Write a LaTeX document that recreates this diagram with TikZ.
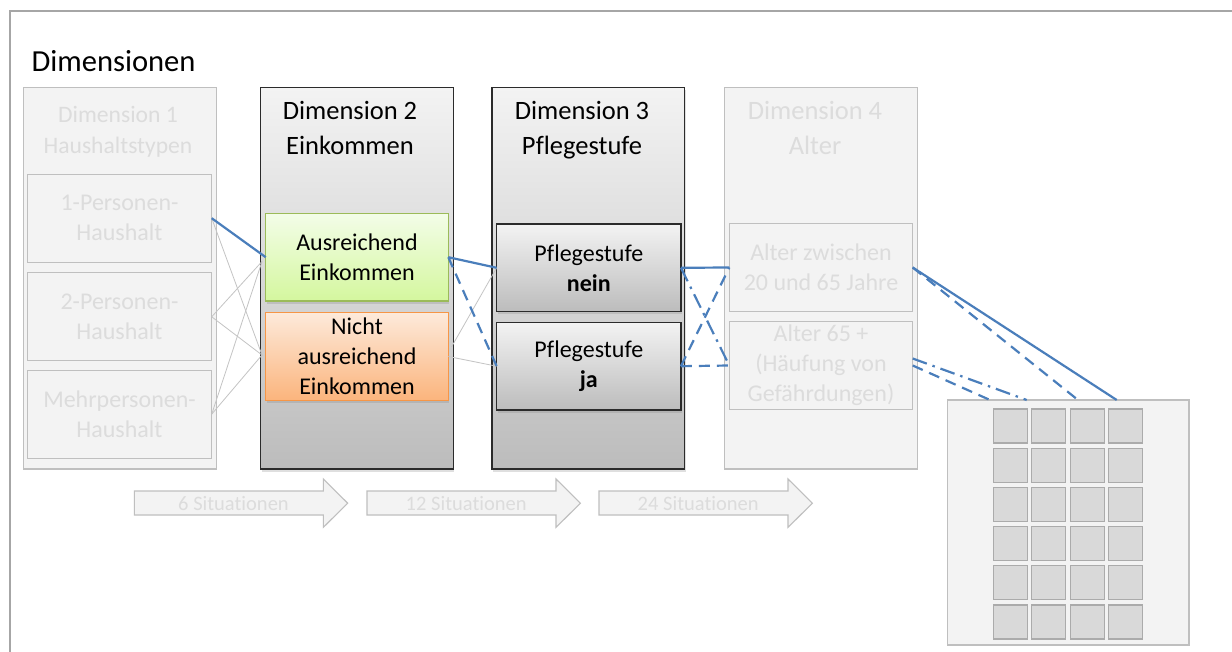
\documentclass[tikz,border=0pt]{standalone}
\usepackage{fontspec}
\setmainfont{Carlito}[Ligatures={NoCommon}]
\usetikzlibrary{shadows,calc}
\definecolor{blueL}{HTML}{4A7EBB}
\definecolor{lgfill}{HTML}{F3F3F3}
\definecolor{lgborder}{HTML}{BFBFBF}
\definecolor{lgtext}{HTML}{DCDCDC}
\definecolor{framec}{HTML}{A6A6A6}
\definecolor{gtop}{HTML}{F3F3F3}
\definecolor{gbot}{HTML}{BCBCBC}
\definecolor{dkborder}{HTML}{2B2B2B}
\definecolor{grtop}{HTML}{F3FDE8}
\definecolor{grbot}{HTML}{D4F79E}
\definecolor{grborder}{HTML}{9BBB59}
\definecolor{ortop}{HTML}{FDEADB}
\definecolor{orbot}{HTML}{FBB47C}
\definecolor{orborder}{HTML}{F79646}
\definecolor{sqfill}{HTML}{D9D9D9}
\definecolor{sqborder}{HTML}{ABABAB}
\definecolor{thinc}{HTML}{C4C4C4}
\begin{document}
\begin{tikzpicture}[x=1pt,y=-1pt,
  every node/.style={inner sep=0pt, outer sep=0pt},
  shd/.style={drop shadow={shadow xshift=1pt, shadow yshift=-2.5pt, opacity=0.25}},
  lightcol/.style={draw=lgborder, fill=lgfill, line width=1.3pt, minimum width=193.4pt, minimum height=381.7pt},
  darkcol/.style={draw=dkborder, line width=1.3pt, top color=gtop, bottom color=gbot, minimum width=192.6pt, minimum height=381.7pt, shd},
  hdr/.style={font=\fontsize{26.5}{35}\selectfont, align=center},
  boxtxt/.style={font=\fontsize{24}{30}\selectfont, align=center},
  lightbox/.style={draw=lgborder, fill=lgfill, line width=1.2pt, minimum width=184.4pt, minimum height=88pt, boxtxt, text=lgtext},
  graybox/.style={draw=dkborder, line width=1.3pt, top color=gtop, bottom color=gbot, minimum width=184.3pt, minimum height=87.7pt, boxtxt, shd},
  greenbox/.style={draw=grborder, line width=1.3pt, top color=grtop, bottom color=grbot, minimum width=182.6pt, minimum height=87.7pt, boxtxt, shd},
  orangebox/.style={draw=orborder, line width=1.3pt, top color=ortop, bottom color=orbot, minimum width=182.6pt, minimum height=88.4pt, boxtxt, shd},
  sq/.style={draw=sqborder, fill=sqfill, line width=1.1pt, minimum width=34pt, minimum height=34pt},
  arrowsh/.style={draw=lgborder, fill=lgfill, line width=1.1pt, line join=miter},
  sittxt/.style={font=\fontsize{20.5}{23}\selectfont, text=lgtext},
  thinln/.style={draw=thinc, line width=0.8pt},
  blueln/.style={draw=blueL, line width=2.2pt},
  bdash/.style={blueln, dash pattern=on 11pt off 7pt},
  bdashdot/.style={blueln, dash pattern=on 15pt off 6pt on 2.5pt off 6pt}
]
\useasboundingbox (0,0) rectangle (1232,652);
\fill[white] (0,0) rectangle (1232,652);
% outer frame
\draw[framec, line width=2pt] (1234,11) -- (10,11) -- (10,654);
\node[anchor=base west, font=\fontsize{30.6}{36}\selectfont] (title) at (31.5,71.5) {Dimensionen};

% columns
\node[lightcol] (d1) at (120,278.2) {};
\node[darkcol] (d2) at (357,278.2) {};
\node[darkcol] (d3) at (588.3,278.2) {};
\node[lightcol] (d4) at (821,278.2) {};

% headers
\node[font=\fontsize{23.6}{31}\selectfont, align=center, text=lgtext] (h1) at (118,132) {Dimension 1\\Haushaltstypen};
\node[hdr] (h2) at (350,127.5) {Dimension 2\\Einkommen};
\node[hdr] (h3) at (582,130) {Dimension 3\\Pflegestufe};
\node[hdr, text=lgtext] (h4) at (815,127.5) {Dimension 4\\Alter};

% D1 boxes
\node[lightbox] (d1a) at (119.5,218.2) {1-Personen-\\Haushalt};
\node[lightbox] (d1b) at (119.5,316.8) {2-Personen-\\Haushalt};
\node[lightbox] (d1c) at (119.5,414.2) {Mehrpersonen-\\Haushalt};

% D2 boxes
\node[greenbox] (d2a) at (357,257.2) {Ausreichend\\Einkommen};
\node[orangebox] (d2b) at (357,356.5) {Nicht\\ausreichend\\Einkommen};

% D3 boxes
\node[graybox] (d3a) at (588.8,267.8) {Pflegestufe\\\textbf{nein}};
\node[graybox] (d3b) at (588.8,366.2) {Pflegestufe\\\textbf{ja}};

% D4 boxes
\node[lightbox, minimum width=183.4pt] (d4a) at (821,267.5) {Alter zwischen\\20 und 65 Jahre};
\node[lightbox, minimum width=183.4pt] (d4b) at (821,365.5) {Alter 65 +\\(Häufung von\\Gefährdungen)};

% connectors D1 -> D2
\coordinate (g1) at (262,261.5);
\coordinate (g2) at (262,355);
\draw[thinln] (d1a.east) -- (g2);
\draw[thinln] (d1b.east) -- (g1);
\draw[thinln] (d1c.east) -- (g1);
\draw[thinln] (d1b.east) -- (g2);
\draw[thinln] (d1c.east) -- (g2);
\draw[blueln] (d1a.east) -- (d2a.west);

% D2 -> D3
\coordinate (g3) at (451.5,347);
\draw[thinln] (g3) -- (d3a.west);
\draw[thinln] (d2b.east) -- (d3b.west);
\draw[blueln] (d3a.west) -- (d2a.east);
\draw[bdash] (d2a.east) -- (d3b.west);

% D3 -> D4
\draw[blueln] (d3a.east) -- (d4a.west);
\draw[bdashdot] (d3a.east) -- (d4b.west);
\draw[bdash] (d3b.east) -- (d4a.west);
\draw[bdash] (d3b.east) -- (d4b.west);

% result box
\node[draw=lgborder, fill=lgfill, line width=1.3pt, minimum width=241.7pt, minimum height=245pt] (res) at (1068.2,522.5) {};
\foreach \i in {0,...,3} {
  \foreach \j in {0,...,5} {
    \node[sq] (sq\i\j) at (1010.3+38.4*\i, 426+39.2*\j) {};
  }
}
\coordinate (r1) at (1116.7,400);
\coordinate (r2) at (1078,400);
\coordinate (r3) at (1026.7,400);
\coordinate (r4) at (990,400);
\coordinate (s4b) at ($(d4b.east)+(0,-7)$);
\draw[blueln] (d4a.east) -- (r1);
\draw[bdash] (d4a.east) -- (r2);
\draw[bdashdot] (s4b) -- (r3);
\draw[bdash] (d4b.east) -- (r4);

% situation arrows
\foreach \x/\t/\n in {134.3/6 Situationen/a1, 367/12 Situationen/a2, 599/24 Situationen/a3} {
  \draw[arrowsh] (\x,491) -- (\x+189,491) -- (\x+189,479) -- (\x+213.4,503.2) -- (\x+189,527.4) -- (\x+189,515) -- (\x,515) -- cycle;
  \node[sittxt] (\n) at (\x+99.2,503.8) {\t};
}
\end{tikzpicture}
\end{document}
